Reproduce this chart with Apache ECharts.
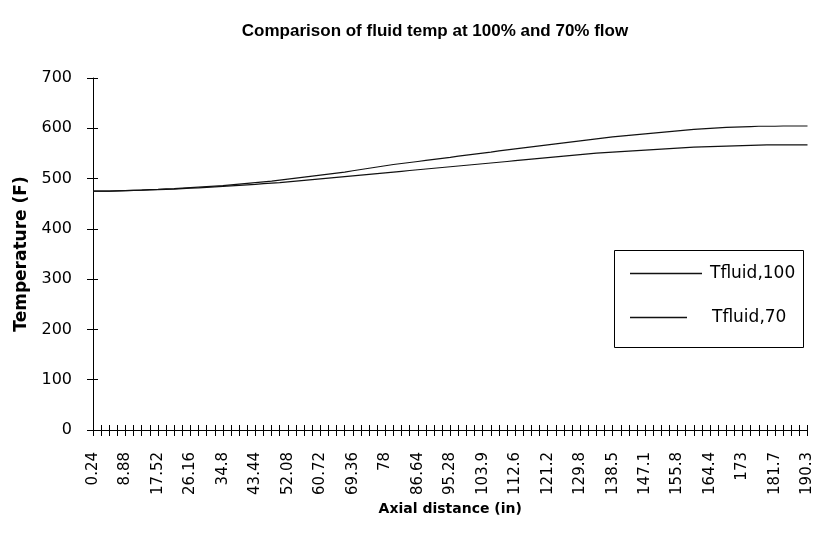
<!DOCTYPE html>
<html><head><meta charset="utf-8">
<script src="https://cdn.jsdelivr.net/npm/echarts@6/dist/echarts.min.js"></script>
<style>html,body{margin:0;padding:0;background:#fff}#c{width:815px;height:533px}</style>
</head><body><div id="c"></div>
<script>
const distances = [0.24, 2.40, 4.56, 6.72, 8.88, 11.04, 13.20, 15.36, 17.52, 19.68, 21.84, 24.00, 26.16, 28.32, 30.48, 32.64, 34.80, 36.96, 39.12, 41.28, 43.44, 45.60, 47.76, 49.92, 52.08, 54.24, 56.40, 58.56, 60.72, 62.88, 65.04, 67.20, 69.36, 71.52, 73.68, 75.84, 78.00, 80.16, 82.32, 84.48, 86.64, 88.80, 90.96, 93.12, 95.28, 97.44, 99.60, 101.76, 103.92, 106.08, 108.24, 110.40, 112.56, 114.72, 116.88, 119.04, 121.20, 123.36, 125.52, 127.68, 129.84, 132.00, 134.16, 136.32, 138.48, 140.64, 142.80, 144.96, 147.12, 149.28, 151.44, 153.60, 155.76, 157.92, 160.08, 162.24, 164.40, 166.56, 168.72, 170.88, 173.04, 175.20, 177.36, 179.52, 181.68, 183.84, 186.00, 188.16, 190.32];
const tickLabels = ['0.24','8.88','17.52','26.16','34.8','43.44','52.08','60.72','69.36','78','86.64','95.28','103.9','112.6','121.2','129.8','138.5','147.1','155.8','164.4','173','181.7','190.3'];
const tfluid100 = [475,475,475,475.5,476,476.5,477,478,478.5,479.5,480,481,482,483,484,485,486,487.5,489,490.5,492,493.5,495,497,499,501,503,505,507,509,511,513,515.5,518,520.5,523,525.5,528,530,532,534,536,538,540,542,544.5,546.5,548.5,550.5,552.5,555,557,559,561,563,565,567,569,571,573,575,577,579,581,583,584.5,586,587.5,589,590.5,592,593.5,595,596.5,598,599,600,601,602,602.5,603,603.5,604,604,604,604.5,604.5,604.5,604.5];
const tfluid70 = [475,475,475,475.5,476,476.5,477,477.5,478,478.5,479,480,481,481.5,482.5,483.5,484.5,485.5,486.5,487.5,488.5,490,491,492,493.5,495,496.5,498,499.5,501,502.5,504,505.5,507,508.5,510,511.5,513,514.5,516,517.5,519,520.5,522,523.5,525,526.5,528,529.5,531,532.5,534,535.5,537,538.5,540,541.5,543,544.5,546,547.5,549,550.5,551.5,552.5,553.5,554.5,555.5,556.5,557.5,558.5,559.5,560.5,561.5,562.5,563,563.5,564,564.5,565,565.5,566,566.5,567,567,567,567,567,567];
const seriesNames = ['Tfluid,100', 'Tfluid,70'];
const titleText = 'Comparison of fluid temp at 100% and 70% flow';

const FONT = 'DejaVu Sans, sans-serif';
const TFONT = 'Liberation Sans, Arial, sans-serif';
const chart = echarts.init(document.getElementById('c'), null, {renderer: 'canvas'});
const axisLine = {show: true, lineStyle: {color: '#000', width: 1}};
chart.setOption({
  animation: false,
  backgroundColor: '#fff',
  title: {text: titleText, left: 430, top: 18, textAlign: 'center',
    textStyle: {fontFamily: TFONT, fontSize: 17, fontWeight: 'bold', color: '#000'}},
  grid: {left: 93, top: 78, right: 7, bottom: 103},
  xAxis: [{
    type: 'category', data: distances.map(String), boundaryGap: false,
    axisLine: axisLine,
    axisTick: {show: true, interval: 0, length: 6, lineStyle: {color: '#000'}},
    axisLabel: {interval: 3, rotate: 90, margin: 22, color: '#000', fontFamily: FONT, fontSize: 15,
      formatter: (v, i) => tickLabels[i / 4]},
    splitLine: {show: false},
    name: 'Axial distance (in)', nameLocation: 'middle', nameGap: 60,
    nameTextStyle: {fontFamily: FONT, fontSize: 14, fontWeight: 'bold', color: '#000'}
  }, {
    type: 'category', data: distances.map(String), boundaryGap: false, position: 'bottom',
    axisLine: {show: false},
    axisTick: {show: true, inside: true, interval: 0, length: 5, lineStyle: {color: '#000'}},
    axisLabel: {show: false}, splitLine: {show: false}
  }],
  yAxis: [{
    type: 'value', min: 0, max: 700, interval: 100,
    axisLine: axisLine,
    axisTick: {show: true, length: 6, lineStyle: {color: '#000'}},
    axisLabel: {margin: 21, color: '#000', fontFamily: FONT, fontSize: 16},
    splitLine: {show: false},
    name: 'Temperature (F)', nameLocation: 'middle', nameGap: 61,
    nameTextStyle: {fontFamily: FONT, fontSize: 17, fontWeight: 'bold', color: '#000'}
  }, {
    type: 'value', min: 0, max: 700, interval: 100, position: 'left',
    axisLine: {show: false},
    axisTick: {show: true, inside: true, length: 5, lineStyle: {color: '#000'}},
    axisLabel: {show: false}, splitLine: {show: false}
  }],
  legend: [{
    data: [seriesNames[0]], left: 630, top: 265, itemWidth: 72, itemHeight: 1.5, itemGap: 0,
    icon: 'rect', padding: 0,
    textStyle: {fontFamily: FONT, fontSize: 17, color: '#000', padding: [3, 0, 0, 3]}
  }, {
    data: [seriesNames[1]], left: 630, top: 309, itemWidth: 57, itemHeight: 1.5, itemGap: 0,
    icon: 'rect', padding: 0,
    textStyle: {fontFamily: FONT, fontSize: 17, color: '#000', padding: [3, 0, 0, 20]}
  }],
  graphic: [{type: 'rect', shape: {x: 614.5, y: 250.5, width: 189, height: 97},
    style: {fill: 'none', stroke: '#000', lineWidth: 1}, z: 10}],
  series: [{
    name: seriesNames[0], type: 'line', data: tfluid100, symbol: 'none', smooth: false,
    lineStyle: {color: '#111', width: 1.2}, itemStyle: {color: '#111'}
  }, {
    name: seriesNames[1], type: 'line', data: tfluid70, symbol: 'none', smooth: false,
    lineStyle: {color: '#111', width: 1.2}, itemStyle: {color: '#111'}
  }]
});
</script></body></html>
